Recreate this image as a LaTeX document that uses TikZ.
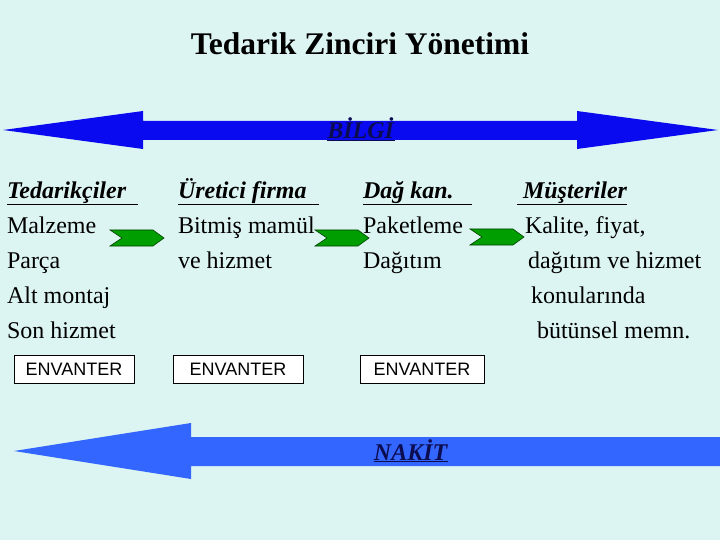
\documentclass[tikz,border=0pt]{standalone}
\usepackage{fontspec}
\setmainfont{Liberation Serif}
\newfontfamily\boxfont{Liberation Sans}

\definecolor{bgcyan}{RGB}{221,245,242}
\definecolor{infoblue}{RGB}{10,10,240}
\definecolor{cashblue}{RGB}{51,102,255}
\definecolor{flowgreen}{RGB}{0,158,0}
\definecolor{navy}{RGB}{12,12,80}

\newcommand{\hdr}[1]{\underline{\textbf{\textit{#1}}}}

\begin{document}
\begin{tikzpicture}[x=1pt,y=-1pt,
every node/.style = {inner sep=0pt, outer sep=0pt},
body/.style = {anchor=base west, align=left,
	font=\fontsize{24}{35}\selectfont},
stock/.style = {draw, fill=white, line width=0.8pt,
	minimum height=28pt, font=\boxfont\fontsize{18}{18}\selectfont},
flow/.pic = {\filldraw[fill=flowgreen, draw=green!25!black, line width=0.6pt]
	(0,0) -- (43,0) -- (54,8) -- (43,16) -- (0,16) -- (12,8) -- cycle;}]

\fill[bgcyan] (0,0) rectangle (720,540);

% title
\node[anchor=base] (title) at (360,55)
	{\fontsize{31.5}{31.5}\selectfont\bfseries Tedarik Zinciri Yönetimi};

% information flow, both ways
\fill[infoblue] (3,130) -- (143,111) -- (143,121) -- (577,121) -- (577,111)
	-- (718,130) -- (577,149) -- (577,140) -- (143,140) -- (143,149) -- cycle;
\node[anchor=base, text=navy] (info) at (361,139)
	{\fontsize{24}{24}\selectfont\hdr{BİLGİ}};

% the four stages (base = last line, 35pt apart, header at 198)
\node[body] (sup) at (7,338)
	{\hdr{Tedarikçiler\ \ }\\ Malzeme\\ Parça\\ Alt montaj\\ Son hizmet};
\node[body] (mfr) at (178,268)
	{\hdr{Üretici firma\ \ }\\ Bitmiş mamül\\ ve hizmet};
\node[body] (dist) at (363,268)
	{\hdr{Dağ kan.\ \ \ }\\ Paketleme\\ Dağıtım};
\node[body] (cust) at (517,338)
	{\hdr{\ Müşteriler}\\ \hspace*{8pt}Kalite, fiyat,\\
	\hspace*{11pt}dağıtım ve hizmet\\ \hspace*{14pt}konularında\\
	\hspace*{20pt}bütünsel memn.};

% material flow
\pic at (110,230) {flow};
\pic at (315,230) {flow};
\pic at (470,229) {flow};

% stocks
\node[stock, minimum width=120pt] (inv1) at (74,369) {ENVANTER};
\node[stock, minimum width=130pt] (inv2) at (238,369) {ENVANTER};
\node[stock, minimum width=124pt] (inv3) at (422,369) {ENVANTER};

% cash flow, back to the suppliers
\fill[cashblue] (14,451) -- (191,423) -- (191,437) -- (720,437)
	-- (720,466) -- (191,466) -- (191,479) -- cycle;
\node[anchor=base, text=navy] (cash) at (411,460)
	{\fontsize{24}{24}\selectfont\hdr{NAKİT}};
\end{tikzpicture}
\end{document}
